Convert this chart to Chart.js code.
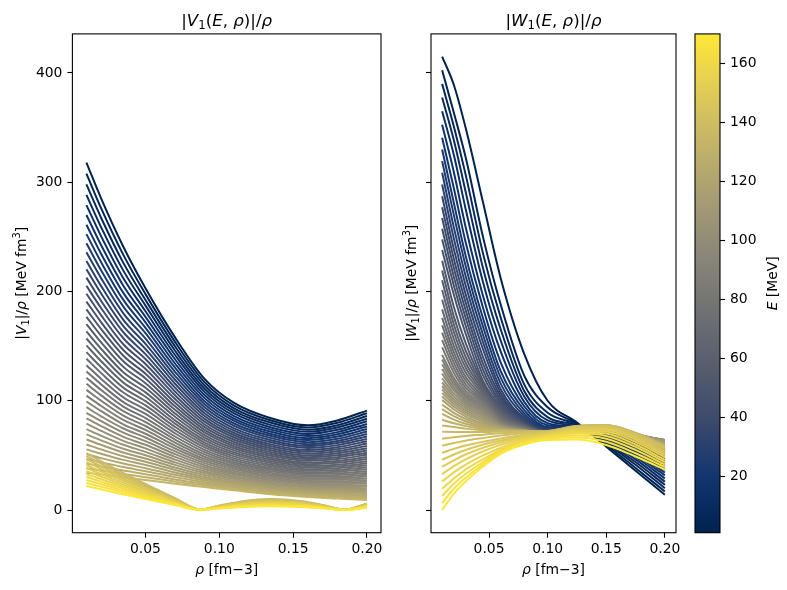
<!DOCTYPE html>
<html><head><meta charset="utf-8">
<script src="https://cdn.jsdelivr.net/npm/chart.js@4.4.1/dist/chart.umd.min.js"></script>
<style>
html,body{margin:0;padding:0;background:#fff;}
#wrap{position:relative;width:787px;height:590px;overflow:hidden;background:#fff;}
#wrap canvas{position:absolute;top:0;}
</style></head><body>
<div id="wrap">
<canvas id="cL" width="400" height="590" style="left:0px;width:400px;height:590px"></canvas>
<canvas id="cR" width="290" height="590" style="left:400px;width:290px;height:590px"></canvas>
<canvas id="cB" width="107" height="590" style="left:680px;width:107px;height:590px"></canvas>
</div>
<script>
// ---------------- DATA ----------------
const energies = [1,4,7,10,13,16,19,22,25,28,31,34,37,40,43,46,49,52,55,58,61,64,67,70,73,76,79,82,85,88,91,94,97,100,103,106,109,112,115,118,121,124,127,130,133,136,139,142,145,148,151,154,157,160,163,166,169];
const colorRange = [1, 170];
const xTicks = [0.05, 0.10, 0.15, 0.20];
const yTicks = [0, 100, 200, 300, 400];
const cbTicks = [20, 40, 60, 80, 100, 120, 140, 160];

// |V1|/rho, curves E = 1..133 (one value per curve in each density column)
const rhoA = [0.01, 0.02, 0.035, 0.05, 0.07, 0.09, 0.11, 0.135, 0.16, 0.18, 0.2];
const vA_010 = [318,307.9,298.1,288.5,279.1,270.0,261.1,252.5,244.1,235.9,228.0,220.3,212.7,205.2,197.9,190.8,183.7,176.8,170.1,163.5,157.0,150.7,144.5,138.4,132.5,126.8,121.1,115.5,110.0,104.7,99.3,94.1,89.0,83.9,79.0,74.1,69.3,64.6,60.0,55.5,51.1,46.7,42.5,38.3,34.2];
const vA_020 = [285.0,276.0,267.3,258.7,250.4,242.3,234.4,226.7,219.2,212.0,204.9,198.1,191.3,184.7,178.2,171.8,165.5,159.4,153.4,147.5,141.8,136.1,130.6,125.3,120.0,114.9,109.8,104.9,100.0,95.2,90.5,85.8,81.3,76.8,72.4,68.0,63.8,59.6,55.5,51.5,47.5,43.6,39.9,36.1,32.5];
const vA_035 = [241.0,233.5,226.2,219.1,212.1,205.3,198.7,192.3,186.1,180.0,174.1,168.4,162.7,157.2,151.7,146.4,141.2,136.1,131.0,126.1,121.3,116.6,112.0,107.5,103.1,98.8,94.6,90.5,86.4,82.4,78.4,74.6,70.8,67.0,63.3,59.7,56.1,52.6,49.2,45.9,42.6,39.3,36.1,33.0,30.0];
const vA_050 = [203,197.6,192.3,187.1,181.9,176.8,171.7,166.7,161.8,156.9,152.1,147.4,142.7,138.2,133.6,129.1,124.7,120.4,116.1,111.9,107.7,103.7,99.6,95.7,91.8,88.0,84.2,80.5,76.9,73.3,69.8,66.4,63.0,59.7,56.4,53.2,50.1,47.1,44.1,41.2,38.3,35.5,32.8,30.1,27.5];
const vA_070 = [158,153.9,149.8,145.8,141.9,138.0,134.1,130.3,126.5,122.8,119.2,115.6,112.0,108.5,105.0,101.6,98.2,94.9,91.7,88.4,85.3,82.1,79.1,76.1,73.1,70.2,67.3,64.5,61.7,59.0,56.3,53.7,51.1,48.6,46.1,43.6,41.3,38.9,36.7,34.4,32.2,30.1,28.0,26.0,24.0];
const vA_090 = [120,117.0,114.0,111.0,108.1,105.2,102.4,99.5,96.8,94.0,91.3,88.6,86.0,83.4,80.9,78.3,75.8,73.4,71.0,68.6,66.3,64.0,61.7,59.5,57.3,55.1,53.0,50.9,48.8,46.8,44.9,42.9,41.0,39.1,37.3,35.5,33.8,32.0,30.3,28.7,27.1,25.5,24.0,22.5,21.0];
const vA_110 = [98,95.5,93.1,90.7,88.4,86.0,83.7,81.5,79.2,77.0,74.8,72.7,70.5,68.4,66.4,64.3,62.3,60.3,58.4,56.5,54.6,52.7,50.9,49.1,47.3,45.6,43.8,42.2,40.5,38.9,37.3,35.7,34.2,32.7,31.2,29.7,28.3,26.9,25.6,24.2,22.9,21.6,20.4,19.2,18.0];
const vA_135 = [84,81.9,79.8,77.7,75.6,73.6,71.6,69.6,67.7,65.8,63.9,62.0,60.1,58.3,56.5,54.8,53.0,51.3,49.6,47.9,46.3,44.7,43.1,41.5,40.0,38.4,37.0,35.5,34.0,32.6,31.2,29.9,28.6,27.2,26.0,24.7,23.5,22.3,21.1,19.9,18.8,17.7,16.6,15.5,14.5];
const vA_160 = [77.5,75.5,73.5,71.6,69.6,67.7,65.8,64.0,62.1,60.3,58.5,56.8,55.0,53.3,51.6,49.9,48.3,46.7,45.1,43.5,42.0,40.4,38.9,37.4,36.0,34.6,33.2,31.8,30.4,29.1,27.8,26.5,25.2,24.0,22.8,21.6,20.4,19.3,18.2,17.1,16.0,15.0,14.0,13.0,12.0];
const vA_180 = [82,79.8,77.6,75.5,73.4,71.3,69.3,67.2,65.2,63.2,61.3,59.4,57.5,55.6,53.7,51.9,50.1,48.3,46.6,44.9,43.2,41.5,39.9,38.3,36.7,35.1,33.6,32.1,30.6,29.2,27.7,26.3,25.0,23.6,22.3,21.0,19.7,18.5,17.3,16.1,14.9,13.8,12.6,11.6,10.5];
const vA_200 = [91,88.5,86.0,83.6,81.2,78.8,76.4,74.1,71.8,69.5,67.3,65.1,62.9,60.8,58.7,56.6,54.5,52.5,50.5,48.5,46.6,44.7,42.8,41.0,39.2,37.4,35.6,33.9,32.2,30.6,28.9,27.3,25.8,24.2,22.7,21.2,19.8,18.3,16.9,15.6,14.2,12.9,11.7,10.4,9.2];

// |V1|/rho, curves E = 136..169 (sign change -> kinks at the zeros)
const rhoB = [0.01, 0.03, 0.05, 0.07, 0.087, 0.1, 0.115, 0.135, 0.155, 0.17, 0.185, 0.2];
const vB_010 = [52,49.3,46.5,43.8,41.1,38.4,35.6,32.9,30.2,27.5,24.7,22];
const vB_030 = [37.4,35.5,33.5,31.5,29.6,27.6,25.6,23.7,21.7,19.8,17.8,15.8];
const vB_050 = [23.9,22.7,21.4,20.1,18.9,17.7,16.4,15.1,13.9,12.7,11.4,10.1];
const vB_070 = [10.9,10.4,9.8,9.2,8.6,8.1,7.5,6.9,6.3,5.8,5.2,4.6];
const vB_087 = [0.5,0.5,0.5,0.4,0.4,0.4,0.4,0.3,0.3,0.3,0.2,0.2];
const vB_100 = [4.1,3.8,3.6,3.3,3.1,2.8,2.6,2.3,2.1,1.9,1.6,1.4];
const vB_115 = [7.8,7.4,6.9,6.4,5.9,5.5,5.0,4.5,4.1,3.6,3.1,2.7];
const vB_135 = [10,9.4,8.8,8.2,7.6,7.0,6.4,5.8,5.2,4.6,4.0,3.4];
const vB_155 = [8.2,7.7,7.2,6.7,6.2,5.7,5.2,4.8,4.3,3.8,3.3,2.8];
const vB_170 = [4.6,4.3,4.1,3.8,3.5,3.2,3.0,2.7,2.4,2.1,1.8,1.6];
const vB_185 = [0.3,0.3,0.3,0.3,0.2,0.2,0.2,0.2,0.2,0.1,0.1,0.1];
const vB_200 = [6,5.6,5.3,4.9,4.5,4.2,3.8,3.5,3.1,2.7,2.4,2];

// |W1|/rho, all curves E = 1..169
const rhoW = [0.01, 0.02, 0.03, 0.045, 0.06, 0.08, 0.1, 0.125, 0.15, 0.175, 0.2];
const w_010 = [415,402.5,390,377.5,365,352.5,340.7,330,319.3,308.6,297.9,287.1,277.1,267.3,257.5,247.7,237.9,228.2,219.3,210.4,201.4,192.5,183.6,175.9,169.1,162.4,155.6,148.8,142,137.7,133.4,129.1,124.9,120.6,116.7,113.5,110.3,107.1,103.9,100.6,96.6,92.3,88,82.6,77.3,71.7,65.3,58.9,52.4,46,39.6,32.9,26.1,19.4,12.9,6.4,0];
const w_020 = [389,363.5,351,338.5,325,309.2,294.4,281,269.9,258.7,248.5,238.6,229.7,221.5,213.3,205.2,197.1,185.8,177,169.8,163,156.3,150,144.4,139.5,134.6,130,125.5,121,118,115,112.1,109.5,106.5,103.8,101.3,99,96.8,94.5,92,89,86,82.8,79.4,76,71.5,66.5,61.3,56,50.8,45.5,40.1,34.5,28.9,24,19.5,15];
const w_030 = [350,323,307.2,291.6,275.8,259.3,245.3,233,223.6,214.3,205.8,197.6,190.2,183.1,176.1,168.9,161.6,152.9,146,140.3,135,130.5,126,121.9,118.5,115.1,112,109.1,106.5,104.6,102.8,100.9,99,97.1,95.3,93.4,91.5,89.6,87.8,85.8,83.5,81.3,79,76.8,74.5,71.5,67.8,63.5,59,54.9,50.8,46.4,41.5,37,33,29.4,26];
const w_045 = [281,249.3,234.2,220.9,208,195.5,184.6,175,167.4,159.8,153.1,146.7,139.5,133.5,128,123,118,115.8,113.5,111.4,109.5,107.6,105.8,103.9,102,100.5,99,97.5,96,94.5,93,91.5,90,88.5,87,85.5,84,82.5,81,79.5,78,76.5,75.3,74.1,73,71.5,69,65.9,62.5,59.9,57,53.8,50,46.6,44,41.9,40];
const w_060 = [212,187.8,175.9,165.2,154.9,145,135,127,121,115.5,110.5,107,104,101.3,98.8,96.8,95,93.5,92,90.5,89,87.9,86.8,85.6,84.5,83.4,82.5,81.8,81,80.3,79.5,78.8,78,77.6,77.3,76.8,76,75.6,75.3,74.8,74,73.6,73.3,72.9,72.5,71.8,70.3,68.1,65.5,63.6,61.8,59.6,57,55.1,53.8,52.6,51.5];
const w_080 = [143,123,115,109,104,99,95,91.5,88.5,86,84,82.8,81.6,80.6,79.8,79.1,78.6,78.1,77.8,77.4,77,76.6,76.3,75.9,75.5,75.1,74.8,74.4,74,73.9,73.7,73.6,73.4,73.3,73.1,73,72.8,72.7,72.5,72.4,72.2,72.1,72,72,72,72,71.5,70.5,69,67.9,66.8,65.5,64,62.9,61.8,60.8,60];
const w_100 = [100,94,89,85,82,79.5,77.5,76,75,74.2,73.6,73.1,72.7,72.4,72.1,71.9,71.8,71.6,71.5,71.4,71.2,71,71,71,70.8,70.7,70.6,70.5,70.5,70.5,70.5,70.5,70.5,70.5,70.5,70.5,70.6,70.8,70.9,71,71,71.2,71.4,71.6,72,72.4,72.3,71.8,71,70.3,69.5,68.8,68,67.3,66.3,65.1,64];
const w_125 = [80,79.2,78.4,77.6,76.8,76,75.4,74.8,74.3,73.8,73.4,73.1,72.8,72.6,72.4,72.2,72,72,72,72,72,72,72,72,72,72,72,72,72,72,72,72,72.2,72.4,72.5,72.6,72.8,73,73.2,73.4,73.5,74.3,75,75.8,76.5,76.9,76.8,76.3,75.5,74.8,73.8,72.6,71.5,70,68.3,66.4,64.5];
const w_150 = [58,59.5,61,62.2,63.4,64.5,65.5,66.4,67.2,67.9,68.5,69,69.4,69.8,70.1,70.4,70.6,70.4,70.5,70.6,71,71,71.1,71.3,71.4,71.6,71.7,71.9,72,72.2,72.3,72.5,72.6,72.8,73,73.3,73.6,73.9,74.3,74.6,75,75.8,76.5,77.1,77.5,77.9,77.5,76.8,76,74.9,73.5,71.9,70,67.8,65.3,62.5,59.5];
const w_175 = [36,38.5,41.5,44,46.3,48.5,50.5,52.3,54,55.5,57,58.3,59.5,60.6,61.6,62.5,63.4,63.8,64.5,65.1,65.5,65.9,66.3,66.6,67,67.4,67.8,68,68,68.4,68.5,68.6,69,69,69,69.1,69.5,69.5,69.8,70,70,70,70.3,70.5,70.5,70.5,70,69,67.5,66,64.3,62.3,60,57.8,55,52,49];
const w_200 = [14,17,20,23,26,29,31.7,34.2,36.6,38.8,41,43,44.9,46.7,48.4,50,51.5,52.5,54,55.4,56.5,57.6,58.8,59.8,60.5,61.3,62,62.6,63,63.4,63.8,64,64,64,63.8,63.4,63,62.3,61.5,60.8,60,59.6,59.3,58.9,58.5,58.1,57.3,55.9,54,52.1,50.3,48.3,46,43.8,41.5,39.3,37];

// ---------------- assembly ----------------
const colsA = [vA_010, vA_020, vA_035, vA_050, vA_070, vA_090, vA_110, vA_135, vA_160, vA_180, vA_200];
const colsB = [vB_010, vB_030, vB_050, vB_070, vB_087, vB_100, vB_115, vB_135, vB_155, vB_170, vB_185, vB_200];
const colsW = [w_010, w_020, w_030, w_045, w_060, w_080, w_100, w_125, w_150, w_175, w_200];
const nA = colsA[0].length, nB = colsB[0].length;
colsA.forEach((c,k)=>{ if (c.length !== nA) throw new Error('colsA length mismatch at ' + k + ': ' + c.length); });
colsB.forEach((c,k)=>{ if (c.length !== nB) throw new Error('colsB length mismatch at ' + k + ': ' + c.length); });
colsW.forEach((c,k)=>{ if (c.length !== energies.length) throw new Error('colsW length mismatch at ' + k + ': ' + c.length); });
if (nA + nB !== energies.length) throw new Error('group sizes ' + nA + '+' + nB + ' vs ' + energies.length);

const CIVIDIS = ['#00224e','#123570','#3b496c','#575d6d','#707173','#8a8678','#a59c74','#c3b369','#e1cc55','#fee838'];
function hex2rgb(h){ return [parseInt(h.slice(1,3),16), parseInt(h.slice(3,5),16), parseInt(h.slice(5,7),16)]; }
const CIV_RGB = CIVIDIS.map(hex2rgb);
function cmap(t){
  t = Math.max(0, Math.min(1, t));
  const n = CIV_RGB.length - 1, f = t * n;
  const k = Math.min(Math.floor(f), n - 1), u = f - k;
  const a = CIV_RGB[k], b = CIV_RGB[k+1];
  return 'rgb(' + a.map((v,j)=>Math.round(v + (b[j]-v)*u)).join(',') + ')';
}
const colorOf = E => cmap((E - colorRange[0]) / (colorRange[1] - colorRange[0]));

function series(grid, cols, idx){ return grid.map((x,j)=>({x:x, y:cols[j][idx]})); }
function lineDs(data, i){
  return { data: data, borderColor: colorOf(energies[i]), borderWidth: 2, pointRadius: 0,
    cubicInterpolationMode: 'monotone', borderJoinStyle: 'round', fill: false,
    order: energies.length - i };
}
const leftDatasets = [], rightDatasets = [];
for (let i = 0; i < energies.length; i++) {
  if (i < nA) leftDatasets.push(lineDs(series(rhoA, colsA, i), i));
  else leftDatasets.push(lineDs(series(rhoB, colsB, i - nA), i));
  rightDatasets.push(lineDs(series(rhoW, colsW, i), i));
}

// ---------------- drawing helpers ----------------
const FONT = '"DejaVu Sans"';
const TICK_FS = 13.9, TITLE_FS = 16.67, LABEL_FS = 13.9;

function drawMath(ctx, segs, size, cx, by){
  let w = 0;
  const parts = segs.map(s => {
    const fs = (s.sub || s.sup) ? size * 0.7 : size;
    const font = (s.it ? 'italic ' : '') + fs.toFixed(2) + 'px ' + FONT;
    ctx.font = font;
    const wd = ctx.measureText(s.t).width;
    w += wd;
    return {s: s, font: font, wd: wd};
  });
  let x = cx - w / 2;
  ctx.textAlign = 'left';
  ctx.textBaseline = 'alphabetic';
  ctx.fillStyle = '#000';
  for (const p of parts) {
    ctx.font = p.font;
    const dy = p.s.sub ? size * 0.2 : (p.s.sup ? -size * 0.42 : 0);
    ctx.fillText(p.s.t, x, by + dy);
    x += p.wd;
  }
}
function drawMathRot(ctx, segs, size, cx, cy){
  ctx.save();
  ctx.translate(cx, cy);
  ctx.rotate(-Math.PI / 2);
  drawMath(ctx, segs, size, 0, 5);
  ctx.restore();
}
function framePlugin(cfg){
  return {
    id: 'frame_' + cfg.id,
    afterDatasetsDraw(chart){
      const a = chart.chartArea, ctx = chart.ctx;
      ctx.save();
      ctx.strokeStyle = '#000';
      ctx.lineWidth = 1.1;
      ctx.strokeRect(a.left, a.top, a.right - a.left, a.bottom - a.top);
      ctx.restore();
    },
    afterDraw(chart){
      const a = chart.chartArea, ctx = chart.ctx;
      ctx.save();
      const mid = (a.left + a.right) / 2;
      if (cfg.title) drawMath(ctx, cfg.title, TITLE_FS, mid, 26);
      if (cfg.xlabel) drawMath(ctx, cfg.xlabel, LABEL_FS, mid, 574);
      if (cfg.ylabel) drawMathRot(ctx, cfg.ylabel, LABEL_FS, cfg.ylabelX, (a.top + a.bottom) / 2);
      ctx.restore();
    }
  };
}
const tickFont = { family: FONT, size: TICK_FS };
function xScale(){
  return {
    type: 'linear', min: 0.0005, max: 0.2095,
    afterBuildTicks: s => { s.ticks = xTicks.map(v => ({value: v})); },
    afterFit: s => { s.height = 57.3; },
    ticks: { callback: v => Number(v).toFixed(2), font: tickFont, color: '#000', padding: 3, maxRotation: 0, autoSkip: false },
    grid: { drawOnChartArea: false, drawTicks: true, tickLength: 5, tickWidth: 1.1, tickColor: '#000' },
    border: { display: false }
  };
}
function yScale(width, showLabels){
  return {
    type: 'linear', min: -20.75, max: 435.75,
    afterBuildTicks: s => { s.ticks = yTicks.map(v => ({value: v})); },
    afterFit: s => { s.width = width; },
    ticks: { display: showLabels, callback: v => String(v), font: tickFont, color: '#000', padding: 5, autoSkip: false },
    grid: { drawOnChartArea: false, drawTicks: true, tickLength: 5, tickWidth: 1.1, tickColor: '#000' },
    border: { display: false }
  };
}
const baseOpts = (padRight, yW, showY) => ({
  responsive: false, animation: false, events: [],
  layout: { padding: { top: 33.9, right: padRight, left: 0, bottom: 0 } },
  plugins: { legend: { display: false }, tooltip: { enabled: false }, title: { display: false } },
  scales: { x: xScale(), y: yScale(yW, showY) },
  elements: { point: { radius: 0, hoverRadius: 0 } }
});

const rhoLabel = [{t:'\u03c1', it:true}, {t:' [fm\u22123]'}];

new Chart(document.getElementById('cL'), {
  type: 'line',
  data: { datasets: leftDatasets },
  options: baseOpts(19, 72.4, true),
  plugins: [framePlugin({
    id: 'L',
    title: [{t:'|'}, {t:'V', it:true}, {t:'1', sub:true}, {t:'('}, {t:'E', it:true}, {t:', '}, {t:'\u03c1', it:true}, {t:')|/'}, {t:'\u03c1', it:true}],
    xlabel: rhoLabel,
    ylabel: [{t:'|'}, {t:'V', it:true}, {t:'1', sub:true}, {t:'|/'}, {t:'\u03c1', it:true}, {t:' [MeV fm'}, {t:'3', sup:true}, {t:']'}],
    ylabelX: 21
  })]
});

new Chart(document.getElementById('cR'), {
  type: 'line',
  data: { datasets: rightDatasets },
  options: baseOpts(14, 31, false),
  plugins: [framePlugin({
    id: 'R',
    title: [{t:'|'}, {t:'W', it:true}, {t:'1', sub:true}, {t:'('}, {t:'E', it:true}, {t:', '}, {t:'\u03c1', it:true}, {t:')|/'}, {t:'\u03c1', it:true}],
    xlabel: rhoLabel,
    ylabel: [{t:'|'}, {t:'W', it:true}, {t:'1', sub:true}, {t:'|/'}, {t:'\u03c1', it:true}, {t:' [MeV fm'}, {t:'3', sup:true}, {t:']'}],
    ylabelX: 11
  })]
});

// ---------------- colorbar ----------------
function cbGradient(context){
  const chart = context.chart, a = chart.chartArea;
  if (!a) return '#888';
  const g = chart.ctx.createLinearGradient(0, a.bottom, 0, a.top);
  CIVIDIS.forEach((c, k) => g.addColorStop(k / (CIVIDIS.length - 1), c));
  return g;
}
new Chart(document.getElementById('cB'), {
  type: 'bar',
  data: { labels: [''], datasets: [{ data: [colorRange], backgroundColor: cbGradient, borderWidth: 0, barPercentage: 1, categoryPercentage: 1 }] },
  options: {
    responsive: false, animation: false, events: [],
    layout: { padding: { top: 33.9, left: 15, right: 0, bottom: 57.3 } },
    plugins: { legend: { display: false }, tooltip: { enabled: false } },
    scales: {
      x: { display: false },
      y: {
        position: 'right', min: colorRange[0], max: colorRange[1],
        afterBuildTicks: s => { s.ticks = cbTicks.map(v => ({value: v})); },
        afterFit: s => { s.width = 67; },
        ticks: { callback: v => String(v), font: tickFont, color: '#000', padding: 5, autoSkip: false },
        grid: { drawOnChartArea: false, drawTicks: true, tickLength: 5, tickWidth: 1.1, tickColor: '#000' },
        border: { display: false }
      }
    }
  },
  plugins: [{
    id: 'cbframe',
    afterDraw(chart){
      const a = chart.chartArea, ctx = chart.ctx;
      ctx.save();
      ctx.strokeStyle = '#000'; ctx.lineWidth = 1.1;
      ctx.strokeRect(a.left, a.top, a.right - a.left, a.bottom - a.top);
      drawMathRot(ctx, [{t:'E', it:true}, {t:' [MeV]'}], LABEL_FS, 92, (a.top + a.bottom) / 2);
      ctx.restore();
    }
  }]
});
</script>
</body></html>
